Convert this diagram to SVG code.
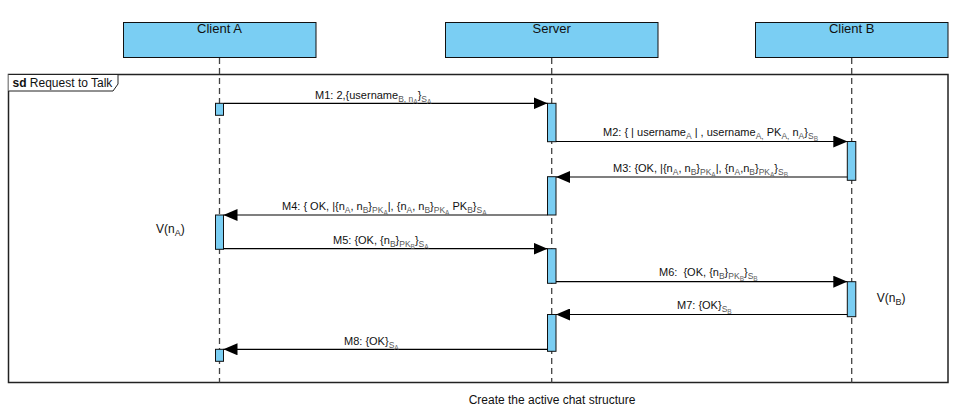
<svg xmlns="http://www.w3.org/2000/svg" width="960" height="420" viewBox="0 0 960 420">
<style>
text{font-family:"Liberation Sans",Arial,sans-serif;fill:#111}
.head{fill:#7ACEF3;stroke:#111;stroke-width:1}
.name{font-size:13px;text-anchor:middle}
.life{stroke:#444;stroke-width:1.3;stroke-dasharray:6 4;fill:none}
.act{fill:#7ACEF3;stroke:#111;stroke-width:1}
.msg{stroke:#000;stroke-width:1.2;fill:none;marker-end:url(#arr)}
.m{font-size:11px}
.s{font-size:8.5px;fill:#555}
.ss{font-size:6.5px;fill:#666}
.v{font-size:12px}
.vs{font-size:9px;fill:#222}
</style>
<defs>
<marker id="arr" markerUnits="userSpaceOnUse" markerWidth="14" markerHeight="12" refX="14" refY="6" orient="auto">
<path d="M0,0 L14,6 L0,12 z" fill="#000"/>
</marker>
</defs>
<rect width="960" height="420" fill="#fff"/>

<g id="frame">
<rect x="8.5" y="74.5" width="939.5" height="308" fill="none" stroke="#222" stroke-width="1.5"/>
<path d="M8.5,74.5 H118 V84 L113,91 H8.5" fill="#fff" stroke="#222" stroke-width="1"/>
<text x="12.5" y="86.5" font-size="12"><tspan font-weight="bold">sd</tspan> Request to Talk</text>
</g>

<g id="client-a">
<rect class="head" x="123.5" y="22.5" width="192.5" height="35"/>
<text class="name" x="219.5" y="33">Client A</text>
<line class="life" x1="219.5" y1="58" x2="219.5" y2="382.5"/>
<rect class="act" x="215.5" y="103.3" width="8" height="12"/>
<rect class="act" x="215.5" y="215" width="8" height="34.3"/>
<rect class="act" x="215.5" y="349.3" width="8" height="12"/>
<text class="v" x="156" y="233">V(n<tspan class="vs" dy="3">A</tspan><tspan dy="-3">)</tspan></text>
</g>

<g id="server">
<rect class="head" x="445.5" y="22.5" width="212.5" height="35"/>
<text class="name" x="551.7" y="33">Server</text>
<line class="life" x1="551.7" y1="58" x2="551.7" y2="382.5"/>
<rect class="act" x="547.5" y="103.3" width="8.5" height="38.4"/>
<rect class="act" x="547.5" y="176.7" width="8.5" height="38.3"/>
<rect class="act" x="547.5" y="248.7" width="8.5" height="34.6"/>
<rect class="act" x="547.5" y="314.5" width="8.5" height="36.8"/>
</g>

<g id="client-b">
<rect class="head" x="755.5" y="22.5" width="192.5" height="35"/>
<text class="name" x="851.7" y="33">Client B</text>
<line class="life" x1="851.7" y1="58" x2="851.7" y2="382.5"/>
<rect class="act" x="847.3" y="141.5" width="8.5" height="38.8"/>
<rect class="act" x="847.3" y="281.7" width="8.5" height="35"/>
<text class="v" x="876.7" y="301.5">V(n<tspan class="vs" dy="3">B</tspan><tspan dy="-3">)</tspan></text>
</g>

<g id="connectors">
<line class="msg" x1="224" y1="103.3" x2="547.5" y2="103.3"/>
<line class="msg" x1="556" y1="141.5" x2="847.3" y2="141.5"/>
<line class="msg" x1="847.3" y1="177" x2="556" y2="177"/>
<line class="msg" x1="547.5" y1="215" x2="223.5" y2="215"/>
<line class="msg" x1="223.5" y1="248.7" x2="547.5" y2="248.7"/>
<line class="msg" x1="556" y1="281.7" x2="847.3" y2="281.7"/>
<line class="msg" x1="847.3" y1="314.5" x2="556" y2="314.5"/>
<line class="msg" x1="547.5" y1="349.3" x2="223.5" y2="349.3"/>

<text class="m" x="315" y="99">M1: 2,{username<tspan class="s" dy="3">B, n</tspan><tspan class="ss" dy="2">A</tspan><tspan dy="-5">}</tspan><tspan class="s" dy="3">S</tspan><tspan class="ss" dy="2">A</tspan></text>

<text class="m" x="603" y="136">M2: { | username<tspan class="s" dy="3">A</tspan><tspan dy="-3"> | , username</tspan><tspan class="s" dy="3">A,</tspan><tspan dy="-3"> PK</tspan><tspan class="s" dy="3">A,</tspan><tspan dy="-3"> n</tspan><tspan class="s" dy="3">A</tspan><tspan dy="-3">}</tspan><tspan class="s" dy="3">S</tspan><tspan class="ss" dy="2">B</tspan></text>

<text class="m" x="613" y="172">M3: {OK, |{n<tspan class="s" dy="3">A</tspan><tspan dy="-3">, n</tspan><tspan class="s" dy="3">B</tspan><tspan dy="-3">}</tspan><tspan class="s" dy="3">PK</tspan><tspan class="ss" dy="2">A</tspan><tspan dy="-5">|, {n</tspan><tspan class="s" dy="3">A</tspan><tspan dy="-3">,n</tspan><tspan class="s" dy="3">B</tspan><tspan dy="-3">}</tspan><tspan class="s" dy="3">PK</tspan><tspan class="ss" dy="2">A</tspan><tspan dy="-5">}</tspan><tspan class="s" dy="3">S</tspan><tspan class="ss" dy="2">B</tspan></text>

<text class="m" x="282" y="209.5">M4: { OK, |{n<tspan class="s" dy="3">A</tspan><tspan dy="-3">, n</tspan><tspan class="s" dy="3">B</tspan><tspan dy="-3">}</tspan><tspan class="s" dy="3">PK</tspan><tspan class="ss" dy="2">A</tspan><tspan dy="-5">|, {n</tspan><tspan class="s" dy="3">A</tspan><tspan dy="-3">, n</tspan><tspan class="s" dy="3">B</tspan><tspan dy="-3">}</tspan><tspan class="s" dy="3">PK</tspan><tspan class="ss" dy="2">A</tspan><tspan dy="-5"> PK</tspan><tspan class="s" dy="3">B</tspan><tspan dy="-3">}</tspan><tspan class="s" dy="3">S</tspan><tspan class="ss" dy="2">A</tspan></text>

<text class="m" x="333" y="243.5">M5: {OK, {n<tspan class="s" dy="3">B</tspan><tspan dy="-3">}</tspan><tspan class="s" dy="3">PK</tspan><tspan class="ss" dy="2">B</tspan><tspan dy="-5">}</tspan><tspan class="s" dy="3">S</tspan><tspan class="ss" dy="2">A</tspan></text>

<text class="m" x="659" y="275.5">M6: &#160;{OK, {n<tspan class="s" dy="3">B</tspan><tspan dy="-3">}</tspan><tspan class="s" dy="3">PK</tspan><tspan class="ss" dy="2">B</tspan><tspan dy="-5">}</tspan><tspan class="s" dy="3">S</tspan><tspan class="ss" dy="2">B</tspan></text>

<text class="m" x="677" y="308.5">M7: {OK}<tspan class="s" dy="3">S</tspan><tspan class="ss" dy="2">B</tspan></text>

<text class="m" x="344" y="345">M8: {OK}<tspan class="s" dy="3">S</tspan><tspan class="ss" dy="2">A</tspan></text>
</g>

<text x="552" y="404" font-size="12" text-anchor="middle">Create the active chat structure</text>
</svg>
